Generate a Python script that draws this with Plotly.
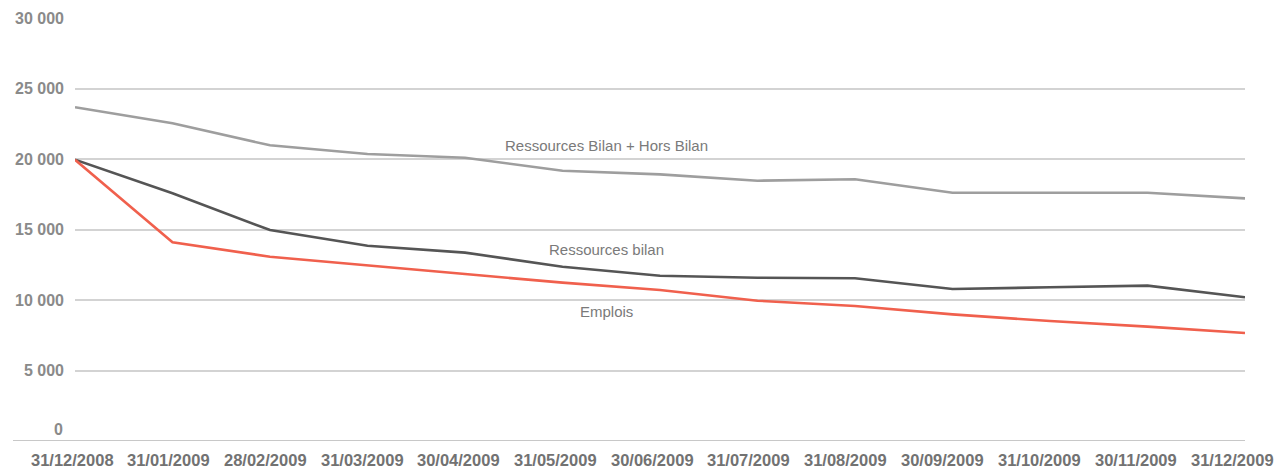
import plotly.graph_objects as go

dates = ["31/12/2008", "31/01/2009", "28/02/2009", "31/03/2009", "30/04/2009", "31/05/2009",
         "30/06/2009", "31/07/2009", "31/08/2009", "30/09/2009", "31/10/2009", "30/11/2009", "31/12/2009"]
hors_bilan = [23670, 22530, 20970, 20350, 20090, 19170, 18910, 18460, 18560, 17610, 17610, 17610, 17210]
ressources_bilan = [19950, 17570, 14960, 13850, 13360, 12360, 11720, 11580, 11540, 10780, 10900, 11020, 10190]
emplois = [19950, 14090, 13070, 12480, 11840, 11230, 10710, 9950, 9570, 8980, 8510, 8110, 7660]
y_ticks = [5000, 10000, 15000, 20000, 25000, 30000]
y_ticktext = ["5 000", "10 000", "15 000", "20 000", "25 000", "30 000"]

x = list(range(len(dates)))

fig = go.Figure()
fig.add_trace(go.Scatter(x=x, y=hors_bilan, mode="lines", line=dict(color="#9e9e9e", width=2.6),
                         name="Ressources Bilan + Hors Bilan"))
fig.add_trace(go.Scatter(x=x, y=ressources_bilan, mode="lines", line=dict(color="#555555", width=2.6),
                         name="Ressources bilan"))
fig.add_trace(go.Scatter(x=x, y=emplois, mode="lines", line=dict(color="#f0604d", width=2.6),
                         name="Emplois"))

tick_font = dict(family="Liberation Sans, Arial, sans-serif", size=16, color="#8a8a8a", weight="bold")
xtick_font = dict(family="Liberation Sans, Arial, sans-serif", size=16.5, color="#727272", weight="bold")
lab_font = dict(family="Liberation Sans, Arial, sans-serif", size=15, color="#7a7a7a")

plot_w = 1279 - 75 - 34
annotations = [
    dict(x=0, y=0, xref="paper", yref="y", text="0", showarrow=False, xanchor="right",
         yanchor="middle", xshift=-10, yshift=12, font=tick_font),
    dict(x=5.45, y=20950, text="Ressources Bilan + Hors Bilan", showarrow=False, font=lab_font),
    dict(x=5.45, y=13600, text="Ressources bilan", showarrow=False, font=lab_font),
    dict(x=5.45, y=9150, text="Emplois", showarrow=False, font=lab_font),
]
# category labels, evenly spread under the plot (slightly offset from the points as in the source)
for i, d in enumerate(dates):
    cx = 72 + i * 96.7
    annotations.append(dict(x=(cx - 75) / plot_w, y=0, xref="paper", yref="paper", text=d,
                            showarrow=False, xanchor="center", yanchor="middle", yshift=-19,
                            font=xtick_font))

fig.update_layout(
    width=1279, height=470,
    margin=dict(l=75, r=34, t=18, b=29, autoexpand=False),
    paper_bgcolor="white", plot_bgcolor="white",
    showlegend=False,
    xaxis=dict(range=[0, 12], tickvals=x, showticklabels=False, showgrid=False, zeroline=False,
               showline=False, ticks="", automargin=False),
    yaxis=dict(range=[0, 30000], tickvals=y_ticks, ticktext=y_ticktext, showgrid=True,
               gridcolor="#d3d3d3", gridwidth=1.5, zeroline=False, showline=False, ticks="",
               tickfont=tick_font, ticklabelstandoff=10, automargin=False),
    annotations=annotations,
    shapes=[dict(type="line", xref="paper", yref="y", x0=-62 / plot_w, x1=1, y0=0, y1=0,
                 line=dict(color="#c8c8c8", width=2), layer="below")],
)

fig.write_html("out.html")
